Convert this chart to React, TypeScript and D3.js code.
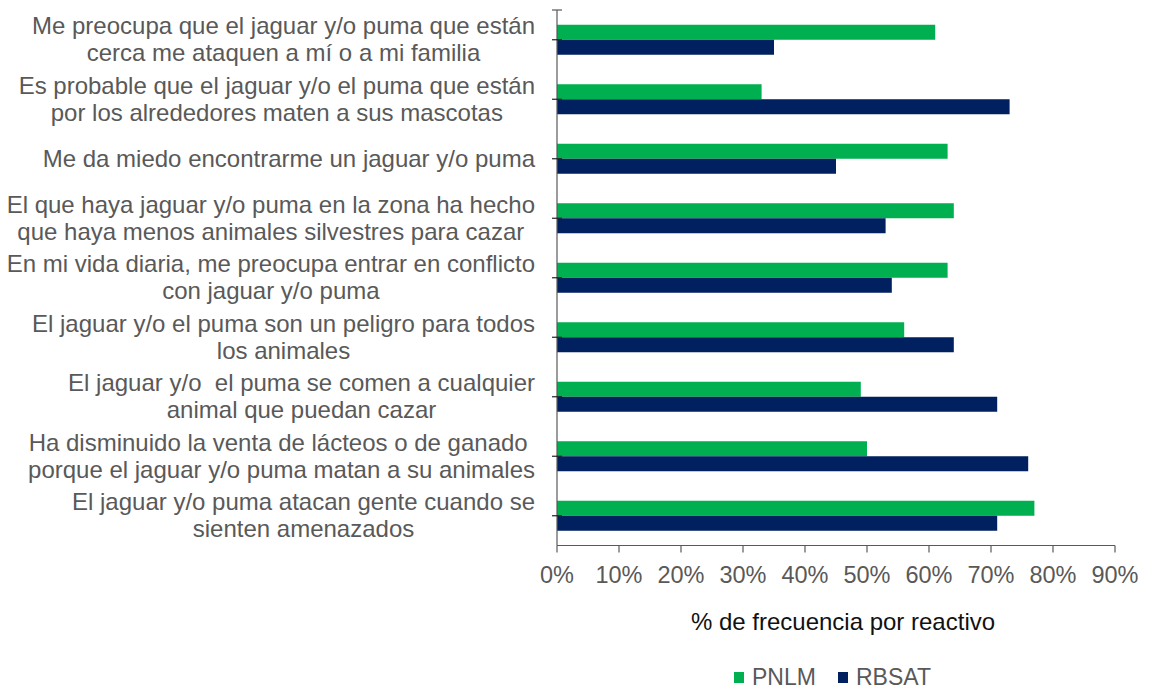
import React, { useEffect, useRef } from "react";
import * as d3 from "d3";

// category labels, one entry per wrapped line (as in the original Excel chart)
const categories: string[][] = [
  ["Me preocupa que el jaguar y/o puma que están", "cerca me ataquen a mí o a mi familia"],
  ["Es probable que el jaguar y/o el puma que están", "por los alrededores maten a sus mascotas"],
  ["Me da miedo encontrarme un jaguar y/o puma"],
  ["El que haya jaguar y/o puma en la zona ha hecho", "que haya menos animales silvestres para cazar"],
  ["En mi vida diaria, me preocupa entrar en conflicto", "con jaguar y/o puma"],
  ["El jaguar y/o el puma son un peligro para todos", "los animales"],
  ["El jaguar y/o  el puma se comen a cualquier", "animal que puedan cazar"],
  ["Ha disminuido la venta de lácteos o de ganado ", "porque el jaguar y/o puma matan a su animales"],
  ["El jaguar y/o puma atacan gente cuando se", "sienten amenazados"],
];

const seriesNames = ["PNLM", "RBSAT"];
const pnlm = [61, 33, 63, 64, 63, 56, 49, 50, 77];
const rbsat = [35, 73, 45, 53, 54, 64, 71, 76, 71];
const xTicks = [0, 10, 20, 30, 40, 50, 60, 70, 80, 90];
const xTitle = "% de frecuencia por reactivo";

const colors = ["#00B050", "#002060"];

export default function App() {
  const svgRef = useRef<SVGSVGElement>(null);

  useEffect(() => {
    const W = 1152, H = 689;
    const svg = d3.select(svgRef.current);
    svg.selectAll("*").remove();

    var left = 557, right = 1115, top = 10, bottom = 545.5;
    var font = "'Liberation Sans', Arial, sans-serif";
    var labelSize = 24;
    var tickSize = 23.5;
    var textColor = "#595959";
    var axisColor = "#595959";

    const x = d3.scaleLinear().domain([0, 90]).range([left, right]);
    const y = d3.scaleBand<number>().domain(d3.range(categories.length)).range([top, bottom]);
    const barH = 15;

    const g = svg.append("g");

    // bars
    const series = [pnlm, rbsat];
    series.forEach((vals, si) => {
      g.selectAll(".bar" + si)
        .data(vals)
        .enter()
        .append("rect")
        .attr("x", x(0))
        .attr("y", (d, i) => y(i)! + y.bandwidth() / 2 - barH + si * barH)
        .attr("width", (d) => x(d) - x(0))
        .attr("height", barH)
        .attr("fill", colors[si]);
    });

    // y axis
    g.append("line")
      .attr("x1", left).attr("x2", left)
      .attr("y1", top).attr("y2", bottom)
      .attr("stroke", axisColor).attr("stroke-width", 1.2);
    g.append("line")
      .attr("x1", left - 5).attr("x2", left + 5)
      .attr("y1", top).attr("y2", top)
      .attr("stroke", axisColor).attr("stroke-width", 1.2);
    g.selectAll(".ytick")
      .data(categories)
      .enter()
      .append("line")
      .attr("x1", left - 5).attr("x2", left + 5)
      .attr("y1", (d, i) => y(i)! + y.bandwidth() / 2)
      .attr("y2", (d, i) => y(i)! + y.bandwidth() / 2)
      .attr("stroke", "#222").attr("stroke-width", 1.2);

    // x axis
    g.append("line")
      .attr("x1", left).attr("x2", right)
      .attr("y1", bottom).attr("y2", bottom)
      .attr("stroke", axisColor).attr("stroke-width", 1.2);
    g.selectAll(".xtick")
      .data(xTicks)
      .enter()
      .append("line")
      .attr("x1", (d) => x(d)).attr("x2", (d) => x(d))
      .attr("y1", bottom).attr("y2", bottom + 7)
      .attr("stroke", axisColor).attr("stroke-width", 1.2);
    g.selectAll(".xlabel")
      .data(xTicks)
      .enter()
      .append("text")
      .attr("x", (d) => x(d))
      .attr("y", 583)
      .attr("text-anchor", "middle")
      .style("font-family", font)
      .style("font-size", tickSize + "px")
      .attr("fill", textColor)
      .text((d) => d + "%");

    // x title
    g.append("text")
      .attr("x", 843)
      .attr("y", 630)
      .attr("text-anchor", "middle")
      .style("font-family", font)
      .style("font-size", labelSize + "px")
      .attr("fill", "#111")
      .text(xTitle);

    // category labels, lines centered in a right-aligned block
    var labelRight = 535;
    var lineH = 27;
    categories.forEach((lines, i) => {
      const cy = y(i)! + y.bandwidth() / 2;
      const t = g.append("text")
        .style("font-family", font)
        .style("font-size", labelSize + "px")
        .attr("fill", textColor)
        .attr("text-anchor", "middle")
        .style("white-space", "pre");
      const spans = lines.map((ln, li) =>
        t.append("tspan")
          .attr("y", cy + (li - (lines.length - 1) / 2) * lineH + 8)
          .text(ln)
      );
      const widths = spans.map((s) => (s.node() as SVGTSpanElement).getComputedTextLength());
      const blockW = Math.max(...widths);
      spans.forEach((s) => s.attr("x", labelRight - blockW / 2));
    });

    // legend
    const legX = [734, 838];
    seriesNames.forEach((name, si) => {
      g.append("rect")
        .attr("x", legX[si]).attr("y", 672)
        .attr("width", 10).attr("height", 11)
        .attr("fill", colors[si]);
      g.append("text")
        .attr("x", legX[si] + 18)
        .attr("y", 685)
        .style("font-family", font)
        .style("font-size", "23px")
        .attr("fill", textColor)
        .text(name);
    });

    svg.attr("width", W).attr("height", H);
  }, []);

  return (
    <svg ref={svgRef} width={1152} height={689}
      style={{ position: "absolute", left: 0, top: 0, background: "#fff" }} />
  );
}
